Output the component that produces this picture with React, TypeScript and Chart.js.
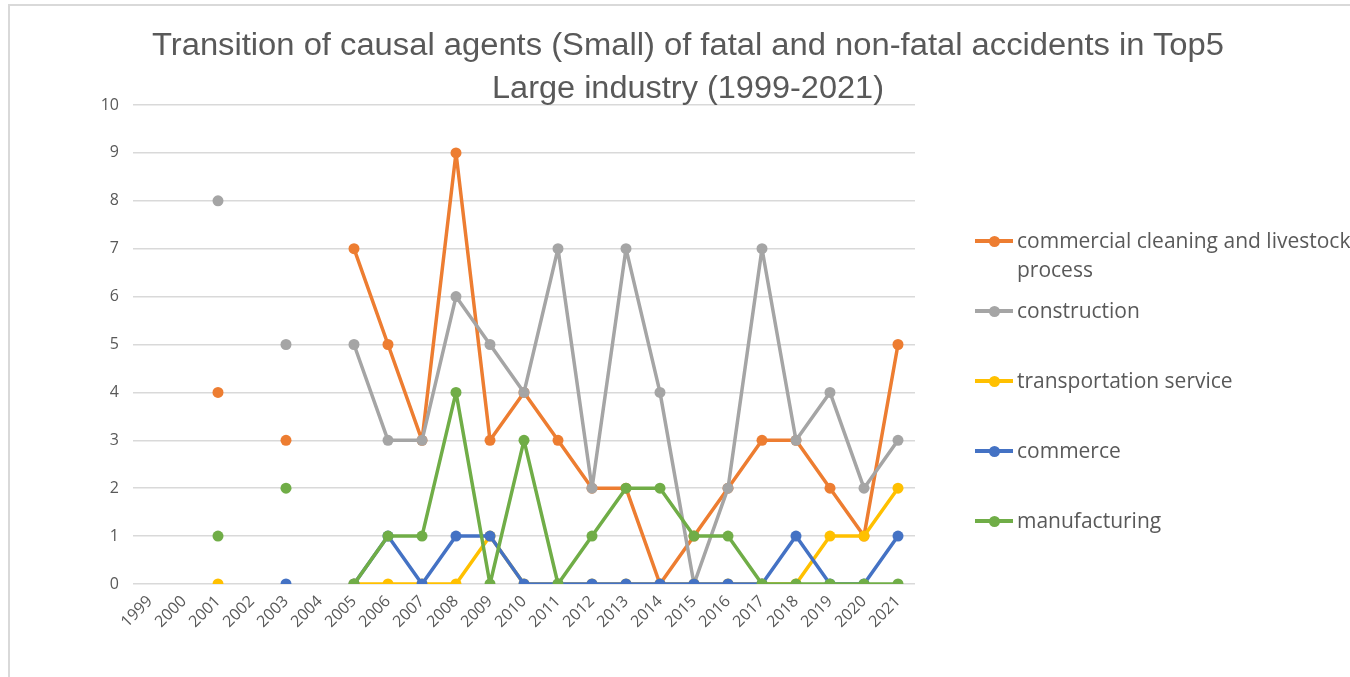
import React, { useEffect, useLayoutEffect, useRef } from "react";
import { Chart, registerables } from "chart.js";
Chart.register(...registerables);

const years = ["1999","2000","2001","2002","2003","2004","2005","2006","2007","2008","2009","2010","2011","2012","2013","2014","2015","2016","2017","2018","2019","2020","2021"];
const cleaning = [null,null,4,null,3,null,7,5,3,9,3,4,3,2,2,0,1,2,3,3,2,1,5];
const construction = [null,null,8,null,5,null,5,3,3,6,5,4,7,2,7,4,0,2,7,3,4,2,3];
const transportation = [null,null,0,null,null,null,0,0,0,0,1,0,0,0,0,0,0,0,0,0,1,1,2];
const commerce = [null,null,null,null,0,null,0,1,0,1,1,0,0,0,0,0,0,0,0,1,0,0,1];
const manufacturing = [null,null,1,null,2,null,0,1,1,4,0,3,0,1,2,2,1,1,0,0,0,0,0];

const seriesNames = ["commercial cleaning and livestock process","construction","transportation service","commerce","manufacturing"];
const legendLines = [["commercial cleaning and livestock","process"],["construction"],["transportation service"],["commerce"],["manufacturing"]];
const colors = ["#ED7D31","#A5A5A5","#FFC000","#4472C4","#70AD47"];
const seriesData = [cleaning, construction, transportation, commerce, manufacturing];
const titleLines = ["Transition of causal agents (Small) of fatal and non-fatal accidents in Top5","Large industry (1999-2021)"];
const titleWidths = [1072, 392];
const titleCenters = [45, 88];
const legendTops = [226, 296, 366, 436, 506];

function TitleLine({ text, width, cy }: { text: string; width: number; cy: number }) {
  const r = useRef<HTMLSpanElement>(null);
  useLayoutEffect(() => {
    const el = r.current;
    if (!el) return;
    el.style.transform = "none";
    const w = el.offsetWidth;
    el.style.transform = `translateX(${-width / 2}px) scaleX(${width / w})`;
  });
  return (
    <span
      ref={r}
      style={{
        position: "absolute",
        left: 688,
        top: cy - 19,
        fontFamily: "'Liberation Sans', Arial, sans-serif",
        fontSize: 31,
        lineHeight: "38px",
        color: "#595959",
        whiteSpace: "nowrap",
        transformOrigin: "0 50%",
      }}
    >
      {text}
    </span>
  );
}

export default function App() {
  const ref = useRef<HTMLCanvasElement>(null);
  useEffect(() => {
    if (!ref.current) return;
    const chart = new Chart(ref.current, {
      type: "line",
      data: {
        labels: years,
        datasets: seriesData.map((d, i) => ({
          label: seriesNames[i],
          data: d,
          borderColor: colors[i],
          backgroundColor: colors[i],
          pointBackgroundColor: colors[i],
          pointBorderColor: colors[i],
          pointRadius: 5.5,
          pointBorderWidth: 0,
          borderWidth: 3.5,
          borderJoinStyle: "round",
          borderCapStyle: "round",
          spanGaps: false,
          order: seriesData.length - 1 - i,
          tension: 0,
        })),
      },
      options: {
        animation: false,
        responsive: false,
        maintainAspectRatio: false,
        layout: { padding: { left: 0, right: 435, top: 105, bottom: 0 } },
        plugins: {
          legend: { display: false },
          tooltip: { enabled: false },
          title: { display: false },
        },
        scales: {
          x: {
            offset: true,
            grid: { display: false, drawTicks: false },
            border: { display: false },
            ticks: {
              color: "#595959",
              font: { family: "'Open Sans', sans-serif", size: 16 },
              minRotation: 45,
              maxRotation: 45,
              autoSkip: false,
              padding: 8,
            },
            afterFit: (s: any) => { s.height = 93; },
          },
          y: {
            min: 0,
            max: 10,
            ticks: {
              stepSize: 1,
              color: "#595959",
              font: { family: "'Open Sans', sans-serif", size: 16 },
              padding: 14,
            },
            grid: { color: "#D9D9D9", lineWidth: 1.5, drawTicks: false },
            border: { display: false },
            afterFit: (s: any) => { s.width = 133; },
          },
        },
      },
    });
    return () => chart.destroy();
  }, []);

  return (
    <div style={{ position: "absolute", left: 0, top: 0, width: 1350, height: 677, background: "#fff", overflow: "hidden" }}>
      <div style={{ position: "absolute", left: 8, top: 4, width: 1342, height: 673, borderLeft: "2px solid #D9D9D9", borderTop: "2px solid #D9D9D9", boxSizing: "border-box" }} />
      <canvas ref={ref} width={1350} height={677} style={{ position: "absolute", left: 0, top: 0 }} />
      {titleLines.map((t, i) => (
        <TitleLine key={i} text={t} width={titleWidths[i]} cy={titleCenters[i]} />
      ))}
      {legendLines.map((lines, i) => (
        <div key={i} style={{ position: "absolute", left: 975, top: legendTops[i], fontFamily: "'Open Sans', sans-serif", fontSize: 21, color: "#595959", lineHeight: "29px", whiteSpace: "nowrap" }}>
          <div style={{ position: "absolute", left: 0, top: 13, width: 38, height: 4, background: colors[i] }} />
          <div style={{ position: "absolute", left: 13.5, top: 9.5, width: 11, height: 11, borderRadius: "50%", background: colors[i] }} />
          <div style={{ marginLeft: 42 }}>
            {lines.map((l, j) => (<div key={j}>{l}</div>))}
          </div>
        </div>
      ))}
    </div>
  );
}
